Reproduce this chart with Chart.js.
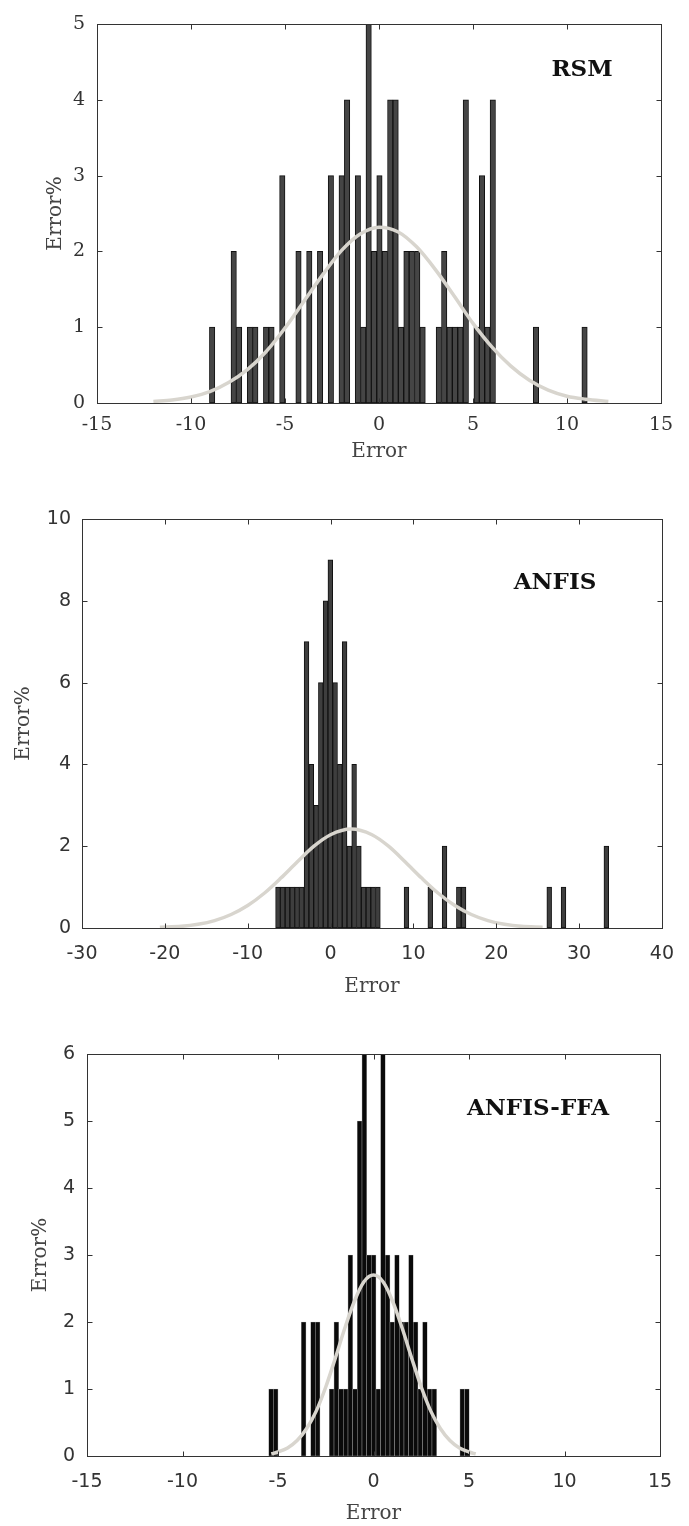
<!DOCTYPE html>
<html>
<head>
<meta charset="utf-8">
<script src="https://cdn.jsdelivr.net/npm/chart.js@4.4.1/dist/chart.umd.min.js"></script>
<style>
  html, body { margin: 0; padding: 0; background: #fff; }
  body { width: 689px; height: 1526px; position: relative; overflow: hidden; }
  canvas { position: absolute; left: 0; }
</style>
</head>
<body>
<canvas id="rsmChart" width="689" height="464" style="top:0px"></canvas>
<canvas id="anfisChart" width="689" height="529" style="top:470px"></canvas>
<canvas id="ffaChart" width="689" height="521" style="top:1005px"></canvas>
<script>
// --- RSM: histogram bins (centre of each non-empty bin) and counts ---
const rsmCenters = [-8.876, -7.728, -7.441, -6.866, -6.579, -6.005, -5.718, -5.144, -4.282, -3.708,
  -3.134, -2.560, -1.986, -1.698, -1.124, -0.837, -0.550, -0.263, 0.024, 0.311,
  0.598, 0.885, 1.173, 1.460, 1.747, 2.034, 2.321, 3.182, 3.469, 3.756,
  4.044, 4.331, 4.618, 5.192, 5.479, 5.766, 6.053, 8.350, 10.934];
const rsmCounts = [1, 2, 1, 1, 1, 1, 1, 3, 2, 2,
  2, 3, 3, 4, 3, 1, 5, 2, 3, 2,
  4, 4, 1, 2, 2, 2, 1, 1, 2, 1,
  1, 1, 4, 1, 3, 1, 4, 1, 1];
// fitted normal curve
const rsmFitX = [-12, -11, -10, -9, -8, -7, -6, -5, -4, -3, -2, -1, 0, 1, 2, 3, 4, 5, 6, 7, 8, 9, 10, 11, 12.2];
const rsmFitY = [0.02, 0.04, 0.08, 0.15, 0.27, 0.44, 0.68, 0.99, 1.34, 1.69, 2.01, 2.23, 2.32, 2.26, 2.06, 1.76, 1.41, 1.05, 0.74, 0.49, 0.30, 0.17, 0.09, 0.05, 0.02];
const rsmXTicks = [-15, -10, -5, 0, 5, 10, 15];
const rsmYTicks = [0, 1, 2, 3, 4, 5];

// --- ANFIS ---
const anfisCenters = [-6.343, -5.769, -5.194, -4.620, -4.045, -3.471, -2.897, -2.322, -1.748, -1.173,
  -0.599, -0.025, 0.550, 1.124, 1.699, 2.273, 2.847, 3.422, 3.996, 4.571,
  5.145, 5.719, 9.166, 12.038, 13.761, 15.484, 16.059, 26.398, 28.121, 33.291];
const anfisCounts = [1, 1, 1, 1, 1, 1, 7, 4, 3, 6,
  8, 9, 6, 4, 7, 2, 4, 2, 1, 1,
  1, 1, 1, 1, 2, 1, 1, 1, 1, 2];
const anfisFitX = [-20.6, -18, -16, -14, -12, -10, -8, -6, -4, -2, 0, 2.5, 5, 7, 9, 11, 13, 15, 17, 19, 21, 23, 25.6];
const anfisFitY = [0.02, 0.04, 0.09, 0.18, 0.33, 0.55, 0.85, 1.22, 1.62, 2.0, 2.28, 2.42, 2.28, 2.0, 1.62, 1.22, 0.85, 0.55, 0.33, 0.18, 0.09, 0.04, 0.02];
const anfisXTicks = [-30, -20, -10, 0, 10, 20, 30, 40];
const anfisYTicks = [0, 2, 4, 6, 8, 10];

// --- ANFIS-FFA ---
const ffaCenters = [-5.365, -5.121, -3.656, -3.167, -2.923, -2.190, -1.946, -1.702, -1.458, -1.214,
  -0.970, -0.725, -0.481, -0.237, 0.007, 0.251, 0.495, 0.739, 0.984, 1.228,
  1.472, 1.716, 1.961, 2.205, 2.449, 2.693, 2.937, 3.182, 4.647, 4.891];
const ffaCounts = [1, 1, 2, 2, 2, 1, 2, 1, 1, 3,
  1, 5, 6, 3, 3, 1, 6, 3, 2, 3,
  2, 2, 3, 2, 1, 2, 1, 1, 1, 1];
const ffaFitX = [-5.35, -5, -4.5, -4, -3.5, -3, -2.5, -2, -1.5, -1, -0.5, 0, 0.5, 1, 1.5, 2, 2.5, 3, 3.5, 4, 4.5, 5, 5.35];
const ffaFitY = [0.03, 0.06, 0.12, 0.23, 0.41, 0.67, 1.03, 1.46, 1.91, 2.31, 2.6, 2.7, 2.6, 2.31, 1.91, 1.46, 1.03, 0.67, 0.41, 0.23, 0.12, 0.06, 0.03];
const ffaXTicks = [-15, -10, -5, 0, 5, 10, 15];
const ffaYTicks = [0, 1, 2, 3, 4, 5, 6];

const SERIF = "'DejaVu Serif', 'Liberation Serif', serif";
const SANS = "'DejaVu Sans', 'Liberation Sans', sans-serif";
const CURVE_COLOR = "#d8d5ce";

// box around the plot with inward ticks on all four sides + panel label
const framePlugin = {
  id: "frame",
  afterDatasetsDraw(chart, args, opts) {
    const { ctx, chartArea: a, scales } = chart;
    const L = Math.round(a.left) + 0.5, R = Math.round(a.right) + 0.5;
    const T = Math.round(a.top) + 0.5, B = Math.round(a.bottom) + 0.5;
    ctx.save();
    ctx.strokeStyle = "#333";
    ctx.lineWidth = 1;
    ctx.strokeRect(L, T, R - L, B - T);
    ctx.beginPath();
    scales.x.ticks.forEach((t) => {
      const px = Math.round(scales.x.getPixelForValue(t.value)) + 0.5;
      if (px <= L + 1 || px >= R - 1) return;
      ctx.moveTo(px, B); ctx.lineTo(px, B - 5);
      ctx.moveTo(px, T); ctx.lineTo(px, T + 5);
    });
    scales.y.ticks.forEach((t) => {
      const py = Math.round(scales.y.getPixelForValue(t.value)) + 0.5;
      if (py <= T + 1 || py >= B - 1) return;
      ctx.moveTo(L, py); ctx.lineTo(L + 5, py);
      ctx.moveTo(R, py); ctx.lineTo(R - 5, py);
    });
    ctx.stroke();
    ctx.font = "bold 23px " + SERIF;
    ctx.fillStyle = "#111";
    ctx.textAlign = "center";
    ctx.textBaseline = "alphabetic";
    ctx.fillText(opts.text, opts.x, opts.y);
    ctx.restore();
  },
};

function buildHistogram(canvasId, c) {
  const ctx = document.getElementById(canvasId).getContext("2d");
  return new Chart(ctx, {
    type: "bar",
    data: {
      datasets: [
        {
          type: "line",
          data: c.fitX.map((x, i) => ({ x: x, y: c.fitY[i] })),
          borderColor: CURVE_COLOR,
          borderWidth: 3.5,
          pointRadius: 0,
          cubicInterpolationMode: "monotone",
          fill: false,
          order: 1,
        },
        {
          type: "bar",
          data: c.centers.map((x, i) => ({ x: x, y: c.counts[i] })),
          backgroundColor: c.barFill,
          borderColor: c.barEdge,
          borderWidth: c.edgeWidth,
          borderSkipped: false,
          barPercentage: 1,
          categoryPercentage: 1,
          order: 2,
        },
      ],
    },
    options: {
      responsive: false,
      animation: false,
      devicePixelRatio: 1,
      layout: { padding: { top: c.padTop, right: c.padRight, left: 0, bottom: 0 } },
      plugins: {
        legend: { display: false },
        tooltip: { enabled: false },
        frame: c.label,
      },
      scales: {
        x: {
          type: "linear",
          min: c.xTicks[0],
          max: c.xTicks[c.xTicks.length - 1],
          offset: false,
          grid: { display: false, drawTicks: false },
          border: { display: false },
          afterBuildTicks: (s) => { s.ticks = c.xTicks.map((v) => ({ value: v })); },
          afterFit: (s) => { s.height = c.xHeight; },
          ticks: { autoSkip: false, maxRotation: 0, padding: c.xTickPad, color: "#333", font: { family: c.tickFamily, size: 19 } },
          title: { display: true, text: "Error", color: "#444", padding: 0, font: { family: SERIF, size: 20 } },
        },
        y: {
          min: 0,
          max: c.yTicks[c.yTicks.length - 1],
          grid: { display: false, drawTicks: false },
          border: { display: false },
          afterBuildTicks: (s) => { s.ticks = c.yTicks.map((v) => ({ value: v })); },
          afterFit: (s) => { s.width = c.yWidth; },
          ticks: { padding: c.yTickPad, color: "#333", font: { family: c.tickFamily, size: 19 } },
          title: { display: true, text: "Error%", color: "#444", padding: { top: c.yTitlePad, bottom: 0 }, font: { family: SERIF, size: 20 } },
        },
      },
    },
    plugins: [framePlugin],
  });
}

buildHistogram("rsmChart", {
  centers: rsmCenters, counts: rsmCounts, fitX: rsmFitX, fitY: rsmFitY,
  xTicks: rsmXTicks, yTicks: rsmYTicks,
  barFill: "#454545", barEdge: "#111", edgeWidth: 1,
  tickFamily: SERIF,
  padTop: 24, padRight: 28, yWidth: 97, xHeight: 61,
  xTickPad: 11, yTickPad: 12, yTitlePad: 44,
  label: { text: "RSM", x: 582, y: 76 },
});

buildHistogram("anfisChart", {
  centers: anfisCenters, counts: anfisCounts, fitX: anfisFitX, fitY: anfisFitY,
  xTicks: anfisXTicks, yTicks: anfisYTicks,
  barFill: "#3e3e3e", barEdge: "#111", edgeWidth: 1,
  tickFamily: SANS,
  padTop: 49, padRight: 17, yWidth: 82, xHeight: 71,
  xTickPad: 15, yTickPad: 11, yTitlePad: 12,
  label: { text: "ANFIS", x: 555, y: 119 },
});

buildHistogram("ffaChart", {
  centers: ffaCenters, counts: ffaCounts, fitX: ffaFitX, fitY: ffaFitY,
  xTicks: ffaXTicks, yTicks: ffaYTicks,
  barFill: "#0a0a0a", barEdge: "#8c8c8c", edgeWidth: 0.6,
  tickFamily: SANS,
  padTop: 49, padRight: 29, yWidth: 87, xHeight: 70,
  xTickPad: 15, yTickPad: 12, yTitlePad: 29,
  label: { text: "ANFIS-FFA", x: 538, y: 110 },
});
</script>
</body>
</html>
